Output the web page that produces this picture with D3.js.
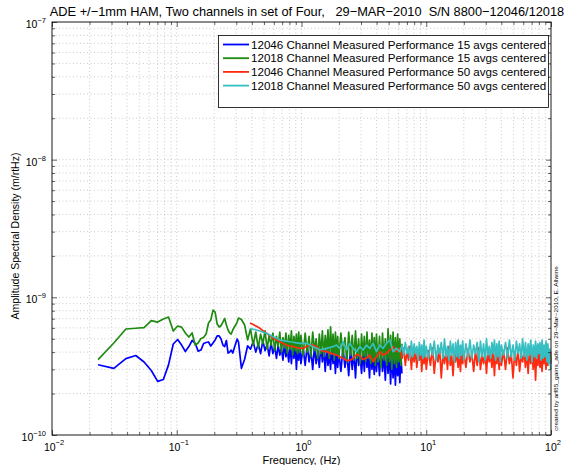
<!DOCTYPE html>
<html><head><meta charset="utf-8">
<script src="https://cdn.jsdelivr.net/npm/d3@7"></script>
<style>
body{margin:0;background:#fff}
svg{display:block}
text{font-family:"Liberation Sans",Arial,Helvetica,sans-serif;fill:#000}
</style>
</head><body>
<svg id="chart" width="571" height="465"></svg>
<script>
// ---------------- DATA ----------------
const titleText = "ADE +/\u22121mm HAM, Two channels in set of Four,   29\u2212MAR\u22122010  S/N 8800\u221212046/12018";
const xLabel = "Frequency, (Hz)";
const yLabel = "Amplitude Spectral Density (m/rtHz)";
const sideNote = "created by arf85_gains_ade on 29\u2212Mar\u22122010, E. Allwine";
const xTickExps = [-2, -1, 0, 1, 2];
const yTickExps = [-10, -9, -8, -7];
const legendLabels = [
  "12046 Channel Measured Performance 15 avgs centered",
  "12018 Channel Measured Performance 15 avgs centered",
  "12046 Channel Measured Performance 50 avgs centered",
  "12018 Channel Measured Performance 50 avgs centered"
];
const UNIT = 1e-10; // values below are in units of 1e-10 m/rtHz

// 15-average spectra (12046 = blue, 12018 = green)
const freq15 = [
  0.0234,0.0313,0.0391,0.0469,0.0547,0.0625,0.0703,0.0781,0.0859,0.0938,0.1016,0.1094,0.1172,0.125,0.1328,0.1406,0.1484,0.1563,0.1641,0.1719,
  0.1797,0.1875,0.1953,0.2031,0.2109,0.2188,0.2266,0.2344,0.2422,0.25,0.2578,0.2656,0.2734,0.2813,0.2891,0.2969,0.3047,0.3125,
  0.33,0.35,0.37,0.39,0.41,0.43,0.45,0.47,0.49,0.51,0.53,0.55,0.57,0.59,0.61,0.63,0.65,0.67,0.69,0.71,0.73,0.75,0.77,0.79,0.81,0.83,0.85,0.87,0.89,0.91,0.93,0.95,0.97,0.99,
  1.03,1.07,1.11,1.15,1.19,1.23,1.27,1.31,1.35,1.39,1.43,1.47,1.51,1.55,1.59,1.63,1.67,1.71,1.75,1.79,1.83,1.87,1.91,1.95,1.99,
  2.07,2.15,2.23,2.31,2.39,2.47,2.55,2.63,2.71,2.79,2.87,2.95,3.03,3.11,3.19,3.27,3.35,3.43,3.51,3.59,3.67,3.75,3.83,3.91,3.99,
  4.10,4.22,4.34,4.46,4.58,4.70,4.82,4.94,5.06,5.18,5.30,5.42,5.54,5.66,5.78,5.90,6.02,6.14,6.26,6.38
];
const blue15 = [
  3.24,3.05,3.59,3.78,3.39,2.94,2.45,2.53,3.23,4.58,4.94,4.50,4.04,4.39,4.86,4.62,4.07,4.14,4.62,4.70,
  4.74,4.43,4.66,4.90,5.24,5.24,4.98,4.50,4.39,4.86,3.94,4.01,4.14,3.94,4.28,4.62,4.98,4.74,
  3.05,3.55,4.45,4.2,4.75,4.0,4.6,3.9,4.85,4.1,4.55,3.75,4.7,3.9,4.4,3.6,4.5,3.8,4.3,3.5,4.6,3.7,4.2,3.4,4.5,3.3,4.4,3.6,4.7,3.0,4.2,3.5,4.45,3.3,
  4.3,3.2,4.5,3.4,4.1,3.0,4.4,3.3,4.0,3.1,4.6,3.4,4.2,2.9,4.3,3.2,3.9,3.0,4.5,3.3,4.1,2.8,4.2,3.1,4.0,
  2.9,4.3,3.1,3.9,2.7,4.2,3.0,4.0,2.6,4.4,3.2,3.8,2.8,4.1,2.9,4.3,3.1,3.7,2.6,4.2,3.0,3.9,2.75,4.1,2.9,
  4.0,2.7,4.3,2.9,3.8,2.5,4.2,2.8,3.9,2.35,4.1,2.6,3.7,2.3,4.0,2.7,3.6,2.4,3.9,2.8
];
const green15 = [
  3.53,4.66,5.89,5.96,6.03,6.78,6.61,6.96,7.19,5.69,6.19,6.08,5.51,5.15,5.51,4.50,4.66,5.02,5.11,5.41,
  6.51,6.84,8.08,7.82,6.40,6.08,6.24,6.61,7.02,6.29,5.79,5.51,5.41,5.79,6.08,6.29,6.61,7.07,
  6.9,6.3,4.9,5.9,4.5,5.6,4.3,5.4,4.6,5.7,4.2,5.3,4.5,5.5,4.1,5.2,4.4,5.6,4.0,5.1,4.3,5.5,3.9,5.3,4.2,5.7,3.8,5.2,4.1,5.4,3.9,5.6,4.0,5.3,
  3.8,5.5,4.0,5.2,3.7,5.6,4.1,5.0,3.6,5.4,3.9,5.7,3.7,5.3,4.0,5.8,3.6,6.1,3.9,5.4,3.5,5.6,3.8,5.2,3.6,
  5.5,3.7,5.1,3.4,5.6,3.8,5.3,3.5,5.7,3.6,5.0,3.3,5.4,3.7,5.2,3.4,5.6,3.6,4.9,3.3,5.5,3.5,5.1,3.2,5.4,
  3.4,5.2,3.1,5.5,3.5,5.0,3.2,5.9,3.4,5.3,3.0,5.6,3.3,5.1,3.1,5.4,3.4,5.0,3.2,4.6
];

// 50-average spectra (12046 = red, 12018 = cyan)
const freq50 = [
  0.386,0.410,0.436,0.464,0.493,0.525,0.558,0.593,0.631,0.671,0.713,0.759,0.807,0.858,0.912,0.970,1.03,1.10,1.17,1.24,
  1.32,1.40,1.49,1.59,1.69,1.79,1.91,2.03,2.16,2.29,2.44,2.59,2.76,2.93,3.12,3.32,3.53,3.75,3.99,4.24,4.51,4.80,5.10,5.43,5.77,6.14,
  6.4,6.6,6.8,7.0,7.2,7.4,7.6,7.8,8.0,8.2,8.4,8.6,8.8,9.0,9.2,9.4,9.6,9.8,10.0,
  10.4,10.8,11.2,11.6,12.0,12.4,12.8,13.2,13.6,14.0,14.4,14.8,15.2,15.6,16.0,16.4,16.8,17.2,17.6,18.0,18.4,18.8,19.2,19.6,20.0,
  20.8,21.6,22.4,23.2,24.0,24.8,25.6,26.4,27.2,28.0,28.8,29.6,30.4,31.2,32.0,32.8,33.6,34.4,35.2,36.0,36.8,37.6,38.4,39.2,40.0,
  41.6,43.2,44.8,46.4,48.0,49.6,51.2,52.8,54.4,56.0,57.6,59.2,60.8,62.4,64.0,65.6,67.2,68.8,70.4,72.0,73.6,75.2,76.8,78.4,80.0,
  81.6,83.2,84.8,86.4,88.0,89.6,91.2,92.8,94.4,96.0,97.6,99.2,100
];
const red50 = [
  6.51,6.34,6.16,5.96,5.71,5.48,5.25,5.05,4.90,4.75,4.62,4.50,4.43,4.38,4.32,4.28,4.26,4.39,4.50,4.50,
  4.39,4.14,4.07,4.03,3.95,3.87,3.81,3.70,3.61,3.48,3.48,3.61,3.84,3.78,3.53,3.62,3.81,3.41,3.70,4.03,3.81,3.92,4.14,4.38,4.03,4.26,
  3.6,4.3,3.2,4.1,3.5,4.4,3.0,4.0,3.4,4.2,3.1,3.9,3.5,4.3,2.9,4.0,3.3,4.2,3.0,
  4.1,3.2,4.3,2.8,4.0,3.4,4.2,2.6,3.9,3.3,4.1,3.0,4.4,3.2,3.8,2.7,4.0,3.4,4.2,3.1,3.9,2.9,4.1,3.3,4.0,
  3.1,4.2,3.4,3.9,2.9,4.1,3.2,4.3,3.0,3.8,3.3,4.0,2.8,4.2,3.4,3.9,3.1,4.1,2.7,4.0,3.3,4.2,3.0,3.9,3.2,
  4.1,3.0,4.3,3.3,3.9,2.6,4.0,3.2,4.2,2.9,3.8,3.4,4.1,3.1,4.0,2.8,4.2,3.3,3.9,3.0,4.1,2.5,4.0,3.2,4.2,
  3.1,3.8,2.9,4.1,3.3,4.0,3.0,4.2,3.2,3.9,3.4,4.0,3.3
];
const cyan50 = [
  5.93,5.86,5.79,5.69,5.58,5.48,5.33,5.17,5.04,4.90,4.85,4.81,4.76,4.72,4.67,4.63,4.63,4.63,4.50,4.38,
  4.26,4.14,4.21,4.26,4.32,4.38,4.50,4.26,4.76,4.14,4.63,4.26,4.03,4.38,4.14,4.50,4.26,4.63,4.03,4.50,4.26,4.63,4.90,4.03,4.26,4.03,
  4.5,3.8,4.7,3.9,4.4,3.6,4.8,3.7,4.6,3.9,4.4,3.5,4.7,3.8,4.5,3.6,4.9,3.7,4.4,
  3.6,4.6,3.8,4.8,3.5,4.5,3.9,4.7,3.6,5.0,3.7,4.4,3.5,4.8,3.8,4.6,3.4,4.7,3.7,4.9,3.6,4.5,3.8,4.8,3.5,
  4.6,3.7,4.9,3.6,4.5,3.9,4.7,3.4,4.8,3.7,4.6,3.5,5.0,3.8,4.4,3.6,4.7,3.9,4.9,3.5,4.6,3.7,4.8,3.4,4.5,
  3.8,4.7,3.6,4.9,3.7,4.5,3.5,4.8,3.9,4.6,3.6,5.0,3.7,4.7,3.5,4.6,3.8,4.9,3.4,4.5,3.7,4.8,3.6,4.6,3.9,
  4.7,3.5,4.9,3.6,4.5,3.7,4.8,3.4,4.6,3.3,4.2,3.1,3.0
];

// ---------------- DRAWING ----------------
const svg = d3.select("#chart");
const W = 571, H = 465;
const plot = {left: 52, right: 551, top: 22, bottom: 435};

const x = d3.scaleLog().domain([Math.pow(10, xTickExps[0]), Math.pow(10, xTickExps[xTickExps.length-1])]).range([plot.left, plot.right]);
const y = d3.scaleLog().domain([Math.pow(10, yTickExps[0]), Math.pow(10, yTickExps[yTickExps.length-1])]).range([plot.bottom, plot.top]);

svg.append("rect").attr("width", W).attr("height", H).attr("fill", "#fff");

const isMajor = v => Math.abs(Math.log10(v) - Math.round(Math.log10(v))) < 1e-6;
const xAll = x.ticks();
const yAll = y.ticks();

// dotted grid
const grid = svg.append("g").attr("stroke", "#a8a8a8").attr("stroke-width", 0.6).attr("stroke-dasharray", "1,2.5");
grid.selectAll("line.gx").data(xAll.filter(v => v > x.domain()[0] && v < x.domain()[1])).join("line")
  .attr("x1", d => x(d)).attr("x2", d => x(d)).attr("y1", plot.top).attr("y2", plot.bottom);
grid.selectAll("line.gy").data(yAll.filter(v => v > y.domain()[0] && v < y.domain()[1])).join("line")
  .attr("y1", d => y(d)).attr("y2", d => y(d)).attr("x1", plot.left).attr("x2", plot.right);

// series lines
const series = [
  {f: freq15, v: blue15, color: "#0000ff"},
  {f: freq15, v: green15, color: "#1f8a12"},
  {f: freq50, v: red50, color: "#ff2a10"},
  {f: freq50, v: cyan50, color: "#36bfc2"}
];
const line = d3.line().x(d => x(d[0])).y(d => y(d[1]));
const gLines = svg.append("g");
series.forEach(s => {
  const pts = s.f.map((f, i) => [f, s.v[i] * UNIT]);
  gLines.append("path").datum(pts).attr("d", line)
    .attr("fill", "none").attr("stroke", s.color).attr("stroke-width", 1.7).attr("stroke-linejoin", "round");
});

// axes with inward ticks (MATLAB style), all four sides
function addAxis(axisFn, scale, tr, vals, size) {
  const a = axisFn(scale).tickValues(vals).tickSize(-size).tickFormat("");
  const g = svg.append("g").attr("transform", tr).call(a);
  g.select(".domain").remove();
  g.selectAll("line").attr("stroke", "#000").attr("stroke-width", 0.6);
}
const xMaj = xAll.filter(isMajor), xMin = xAll.filter(v => !isMajor(v));
const yMaj = yAll.filter(isMajor), yMin = yAll.filter(v => !isMajor(v));
addAxis(d3.axisBottom, x, `translate(0,${plot.bottom})`, xMaj, 5);
addAxis(d3.axisBottom, x, `translate(0,${plot.bottom})`, xMin, 3);
addAxis(d3.axisTop, x, `translate(0,${plot.top})`, xMaj, 5);
addAxis(d3.axisTop, x, `translate(0,${plot.top})`, xMin, 3);
addAxis(d3.axisLeft, y, `translate(${plot.left},0)`, yMaj, 5);
addAxis(d3.axisLeft, y, `translate(${plot.left},0)`, yMin, 3);
addAxis(d3.axisRight, y, `translate(${plot.right},0)`, yMaj, 5);
addAxis(d3.axisRight, y, `translate(${plot.right},0)`, yMin, 3);

svg.append("rect").attr("x", plot.left).attr("y", plot.top)
  .attr("width", plot.right - plot.left).attr("height", plot.bottom - plot.top)
  .attr("fill", "none").attr("stroke", "#000").attr("stroke-width", 0.9);

// tick labels 10^n
xTickExps.forEach(e => {
  const t = svg.append("text").attr("x", x(Math.pow(10, e)) + 2).attr("y", 450.5)
    .attr("text-anchor", "middle").style("font-size", "10.5px");
  t.append("tspan").text("10");
  t.append("tspan").attr("dy", -6).style("font-size", "7.5px").text(e < 0 ? "\u2212" + (-e) : String(e));
});
yTickExps.forEach(e => {
  const t = svg.append("text").attr("x", 46).attr("y", y(Math.pow(10, e)) + 6)
    .attr("text-anchor", "end").style("font-size", "10.5px");
  t.append("tspan").text("10");
  t.append("tspan").attr("dy", -5).style("font-size", "7.5px").text(e < 0 ? "\u2212" + (-e) : String(e));
});

// titles
svg.append("text").attr("x", 307).attr("y", 15.5)
  .attr("text-anchor", "middle").style("font-size", "12.8px").style("white-space", "pre")
  .attr("xml:space", "preserve").text(titleText);
svg.append("text").attr("x", (plot.left + plot.right) / 2).attr("y", 463.5)
  .attr("text-anchor", "middle").style("font-size", "11px").text(xLabel);
svg.append("text").attr("transform", `translate(19,236) rotate(-90)`)
  .attr("text-anchor", "middle").style("font-size", "10.5px").text(yLabel);
svg.append("text").attr("transform", `translate(558,431) rotate(-90)`)
  .attr("text-anchor", "start").style("font-size", "5.5px")
  .attr("textLength", 165).attr("lengthAdjust", "spacingAndGlyphs").text(sideNote);

// legend
const lg = svg.append("g");
lg.append("rect").attr("x", 218.5).attr("y", 35.5).attr("width", 330).attr("height", 72)
  .attr("fill", "#fff").attr("stroke", "#000").attr("stroke-width", 0.8);
legendLabels.forEach((lab, i) => {
  const cy = 44.5 + i * 13.7;
  lg.append("line").attr("x1", 223).attr("x2", 249).attr("y1", cy).attr("y2", cy)
    .attr("stroke", series[i].color).attr("stroke-width", 1.8);
  lg.append("text").attr("x", 251).attr("y", cy + 4).style("font-size", "11.6px").text(lab);
});
</script>
</body></html>
